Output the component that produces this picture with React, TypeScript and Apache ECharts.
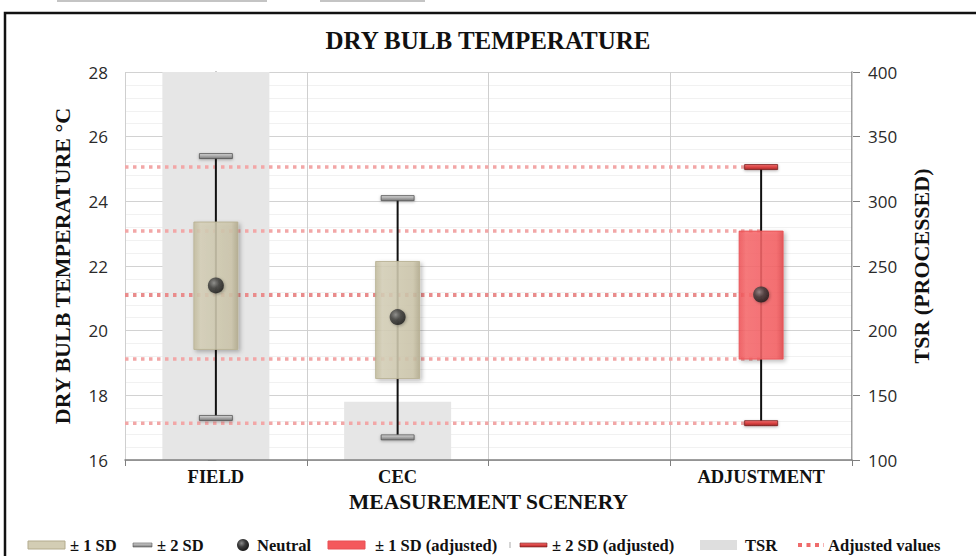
import React, { useEffect, useRef } from 'react';
import * as echarts from 'echarts';

// ---- data ----
const categories = ['FIELD', 'CEC', '', 'ADJUSTMENT'];
const sd2Low = [17.3, 16.7, null, 17.14];
const sd2High = [25.4, 24.1, null, 25.06];
const sd1Low = [19.42, 18.52, null, 19.12];
const sd1High = [23.36, 22.14, null, 23.08];
const neutral = [21.4, 20.42, null, 21.12];
const isAdjusted = [0, 0, 0, 1];
const tsr = [400, 145, null, null];
const adjustedValues = [25.06, 23.08, 21.1, 19.12, 17.14];
const adjustedFrom = -0.5; // start at left edge of plot
const adjustedTo = 3; // end at ADJUSTMENT
const leftAxis = { min: 16, max: 28, interval: 2 };
const rightAxis = { min: 100, max: 400, interval: 50 };

const SERIF = '"Liberation Serif", "Times New Roman", serif';
const SANS = '"Open Sans", "Noto Sans", sans-serif';

const beigeFill = new echarts.graphic.LinearGradient(0, 0, 1, 0, [
  { offset: 0, color: '#c2bb9d' },
  { offset: 0.15, color: '#d6d0b8' },
  { offset: 0.85, color: '#cdc6ab' },
  { offset: 1, color: '#b3ab8d' },
]);
const redFill = new echarts.graphic.LinearGradient(0, 0, 1, 0, [
  { offset: 0, color: '#ee4f53' },
  { offset: 0.15, color: '#f86a6d' },
  { offset: 0.85, color: '#f66063' },
  { offset: 1, color: '#e24649' },
]);
const grayCap = new echarts.graphic.LinearGradient(0, 0, 0, 1, [
  { offset: 0, color: '#d8d8d8' },
  { offset: 0.5, color: '#a9a9a9' },
  { offset: 1, color: '#7a7a7a' },
]);
const redCap = new echarts.graphic.LinearGradient(0, 0, 0, 1, [
  { offset: 0, color: '#f07070' },
  { offset: 0.5, color: '#dc4444' },
  { offset: 1, color: '#a52a2a' },
]);
const sphere = new echarts.graphic.RadialGradient(0.38, 0.35, 0.7, [
  { offset: 0, color: '#8a8a8a' },
  { offset: 0.45, color: '#3c3c3c' },
  { offset: 1, color: '#151515' },
]);

export default function App() {
  const ref = useRef<HTMLDivElement>(null);
  useEffect(() => {
    if (!ref.current) return;
    const chart = echarts.init(ref.current, undefined, { renderer: 'svg' });

    const boxData: any[] = [];
    categories.forEach((c, i) => {
      if (sd2Low[i] == null) return;
      boxData.push([i, sd2Low[i], sd2High[i], sd1Low[i], sd1High[i], isAdjusted[i]]);
    });
    const neutralData: any[] = [];
    neutral.forEach((v, i) => {
      if (v != null) neutralData.push([i, v]);
    });

    const adjSeries = adjustedValues.map((v, k) => ({
      type: 'line',
      xAxisIndex: 1,
      yAxisIndex: 0,
      data: [[adjustedFrom, v], [adjustedTo, v]],
      symbol: 'none',
      silent: true,
      z: 3,
      lineStyle: {
        color: k === 2 ? '#e98c8c' : '#f2a7a7',
        width: k === 2 ? 4 : 3.5,
        type: [3.5, 4.5],
        cap: 'butt',
      },
    }));

    const legendY = 545;
    const txt = (x: number, text: string) => ({
      type: 'text',
      x,
      y: legendY,
      style: {
        text,
        fontFamily: SERIF,
        fontWeight: 'bold',
        fontSize: 16.5,
        fill: '#111',
        verticalAlign: 'middle',
        align: 'left',
      },
    });

    chart.setOption({
      animation: false,
      backgroundColor: '#ffffff',
      title: {
        text: 'DRY BULB TEMPERATURE',
        left: 'center',
        top: 23,
        textStyle: { fontFamily: SERIF, fontWeight: 'bold', fontSize: 25, color: '#111' },
      },
      grid: { left: 125, right: 124, top: 72, bottom: 96, containLabel: false },
      xAxis: [
        {
          type: 'category',
          data: categories,
          boundaryGap: true,
          name: 'MEASUREMENT SCENERY',
          nameLocation: 'middle',
          nameGap: 31,
          nameTextStyle: { fontFamily: SERIF, fontWeight: 'bold', fontSize: 21.5, color: '#111' },
          axisLine: { show: true, lineStyle: { color: '#7f7f7f', width: 1.5 } },
          axisTick: { show: true, length: 6, lineStyle: { color: '#7f7f7f' } },
          axisLabel: { fontFamily: SERIF, fontWeight: 'bold', fontSize: 18.5, color: '#111', margin: 7 },
          splitLine: { show: true, lineStyle: { color: '#cfcfcf', width: 1 } },
          z: 2,
        },
        {
          type: 'value',
          min: -0.5,
          max: 3.5,
          interval: 0.5,
          show: false,
          axisLabel: { show: false },
          splitLine: { show: true, lineStyle: { color: '#efefef', width: 1 } },
        },
      ],
      yAxis: [
        {
          type: 'value',
          min: leftAxis.min,
          max: leftAxis.max,
          interval: leftAxis.interval,
          name: 'DRY BULB TEMPERATURE °C',
          nameLocation: 'middle',
          nameRotate: 90,
          nameGap: 52,
          nameTextStyle: { fontFamily: SERIF, fontWeight: 'bold', fontSize: 22, color: '#111' },
          axisLine: { show: true, lineStyle: { color: '#7f7f7f', width: 1.5 } },
          axisTick: { show: true, length: 8, lineStyle: { color: '#7f7f7f' } },
          axisLabel: { fontFamily: SANS, fontSize: 17, color: '#2a2a2a', margin: 17 },
          splitLine: { show: true, lineStyle: { color: '#d2d2d2', width: 1 } },
          minorTick: { show: false, splitNumber: 5 },
          minorSplitLine: { show: true, lineStyle: { color: '#f1f1f1', width: 1 } },
        },
        {
          type: 'value',
          min: rightAxis.min,
          max: rightAxis.max,
          interval: rightAxis.interval,
          position: 'right',
          name: 'TSR (PROCESSED)',
          nameLocation: 'middle',
          nameRotate: 90,
          nameGap: 58,
          nameTextStyle: { fontFamily: SERIF, fontWeight: 'bold', fontSize: 22, color: '#111' },
          axisLine: { show: true, lineStyle: { color: '#7f7f7f', width: 1.5 } },
          axisTick: { show: true, length: 8, lineStyle: { color: '#7f7f7f' } },
          axisLabel: { fontFamily: SANS, fontSize: 17, color: '#2a2a2a', margin: 16 },
          splitLine: { show: false },
        },
      ],
      series: [
        {
          type: 'bar',
          name: 'TSR',
          xAxisIndex: 0,
          yAxisIndex: 1,
          data: tsr,
          barWidth: 107,
          itemStyle: { color: '#e6e6e6' },
          z: 1,
          silent: true,
        },
        ...adjSeries,
        {
          type: 'custom',
          name: 'SD',
          xAxisIndex: 0,
          yAxisIndex: 0,
          data: boxData,
          encode: { x: 0, y: [1, 2, 3, 4] },
          z: 5,
          renderItem: (params: any, api: any) => {
            const idx = api.value(0);
            const lo2 = api.coord([idx, api.value(1)]);
            const hi2 = api.coord([idx, api.value(2)]);
            const lo1 = api.coord([idx, api.value(3)]);
            const hi1 = api.coord([idx, api.value(4)]);
            const adj = api.value(5) === 1;
            const x = lo2[0];
            const boxW = 44;
            const capW = 33;
            const capH = 5;
            return {
              type: 'group',
              children: [
                {
                  type: 'line',
                  shape: { x1: x, y1: hi2[1], x2: x, y2: lo2[1] },
                  style: { stroke: '#111', lineWidth: 2 },
                },
                {
                  type: 'rect',
                  shape: { x: x - boxW / 2, y: hi1[1], width: boxW, height: lo1[1] - hi1[1] },
                  style: {
                    fill: adj ? redFill : beigeFill,
                    stroke: adj ? '#e85054' : '#b7b092',
                    lineWidth: 1,
                    opacity: 0.86,
                    shadowBlur: 4,
                    shadowOffsetX: 2,
                    shadowOffsetY: 2,
                    shadowColor: 'rgba(0,0,0,0.3)',
                  },
                },
                {
                  type: 'rect',
                  shape: { x: x - capW / 2, y: hi2[1] - capH / 2, width: capW, height: capH },
                  style: {
                    fill: adj ? redCap : grayCap,
                    stroke: adj ? '#7a1f1f' : '#555',
                    lineWidth: 0.8,
                    shadowBlur: 3,
                    shadowOffsetY: 1,
                    shadowColor: 'rgba(0,0,0,0.3)',
                  },
                },
                {
                  type: 'rect',
                  shape: { x: x - capW / 2, y: lo2[1] - capH / 2, width: capW, height: capH },
                  style: {
                    fill: adj ? redCap : grayCap,
                    stroke: adj ? '#7a1f1f' : '#555',
                    lineWidth: 0.8,
                    shadowBlur: 3,
                    shadowOffsetY: 1,
                    shadowColor: 'rgba(0,0,0,0.3)',
                  },
                },
              ],
            };
          },
        },
        {
          type: 'scatter',
          name: 'Neutral',
          xAxisIndex: 0,
          yAxisIndex: 0,
          data: neutralData,
          symbol: 'circle',
          symbolSize: 16,
          z: 6,
          itemStyle: {
            color: sphere,
            shadowBlur: 3,
            shadowOffsetX: 1,
            shadowOffsetY: 1,
            shadowColor: 'rgba(0,0,0,0.35)',
          },
        },
      ],
      graphic: [
        { type: 'rect', shape: { x: 57, y: 0, width: 210, height: 2 }, style: { fill: '#c4c4c4' }, silent: true },
        { type: 'rect', shape: { x: 320, y: 0, width: 105, height: 2 }, style: { fill: '#c4c4c4' }, silent: true },
        {
          type: 'rect',
          shape: { x: 5, y: 13, width: 1000, height: 600 },
          style: { fill: 'none', stroke: '#111', lineWidth: 2.5 },
          silent: true,
        },
        // legend
        {
          type: 'rect',
          shape: { x: 28, y: legendY - 4, width: 37, height: 8 },
          style: { fill: '#d3cdb4', stroke: '#b3ab8d', lineWidth: 1 },
        },
        txt(70, '± 1 SD'),
        {
          type: 'rect',
          shape: { x: 133, y: legendY - 2, width: 19, height: 4 },
          style: { fill: grayCap, stroke: '#555', lineWidth: 0.6 },
        },
        txt(157, '± 2 SD'),
        {
          type: 'circle',
          shape: { cx: 243, cy: legendY, r: 6 },
          style: { fill: sphere },
        },
        txt(257, 'Neutral'),
        {
          type: 'rect',
          shape: { x: 328, y: legendY - 4, width: 37, height: 8 },
          style: { fill: '#f4595c', stroke: '#e85054', lineWidth: 1 },
        },
        txt(375, '± 1 SD (adjusted)'),
        {
          type: 'line',
          shape: { x1: 510, y1: legendY - 3, x2: 510, y2: legendY + 3 },
          style: { stroke: '#aaa', lineWidth: 1 },
        },
        {
          type: 'rect',
          shape: { x: 520, y: legendY - 2, width: 27, height: 4 },
          style: { fill: redCap, stroke: '#7a1f1f', lineWidth: 0.6 },
        },
        txt(552, '± 2 SD (adjusted)'),
        {
          type: 'rect',
          shape: { x: 700, y: legendY - 5, width: 37, height: 10 },
          style: { fill: '#dedede' },
        },
        txt(745, 'TSR'),
        {
          type: 'line',
          shape: { x1: 798, y1: legendY, x2: 824, y2: legendY },
          style: { stroke: '#ef6b6b', lineWidth: 4, lineDash: [4, 4.5] },
        },
        txt(828, 'Adjusted values'),
      ],
    });
    return () => chart.dispose();
  }, []);
  return (
    <div
      ref={ref}
      style={{ position: 'absolute', left: 0, top: 0, width: 976, height: 556, background: '#fff' }}
    />
  );
}
